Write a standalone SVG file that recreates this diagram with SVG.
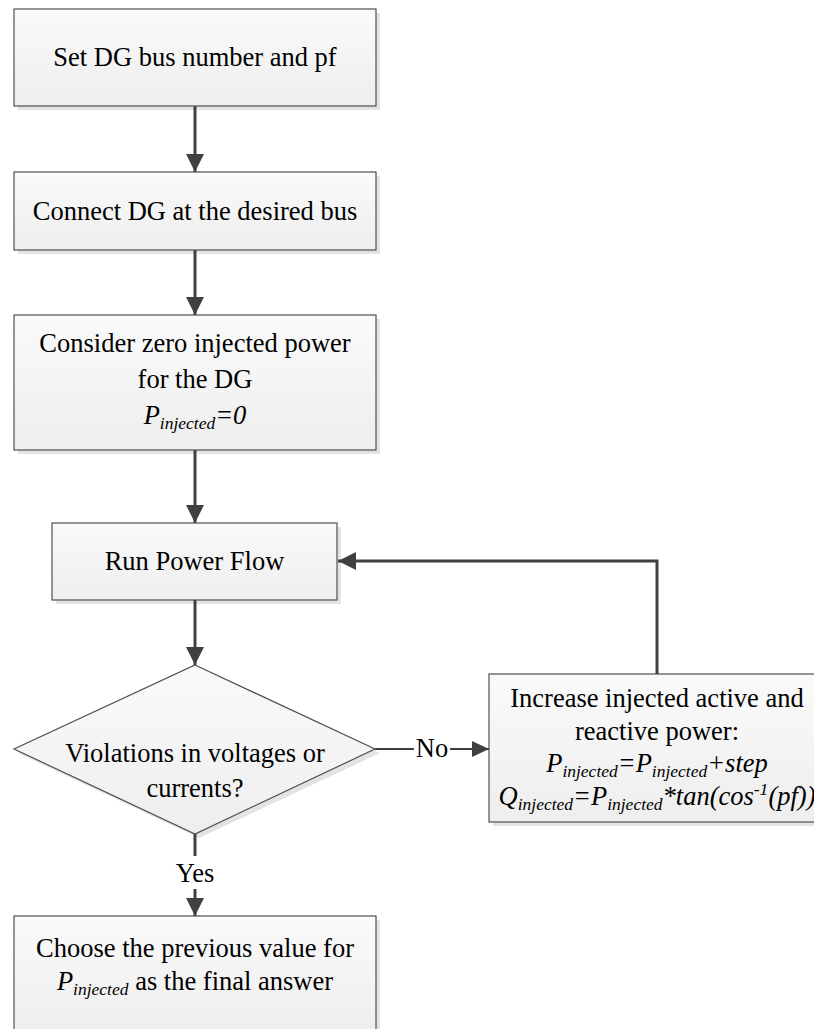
<svg xmlns="http://www.w3.org/2000/svg" width="814" height="1029" viewBox="0 0 814 1029">
<style>
.box{fill:url(#g);stroke:#505050;stroke-width:1.2}
.sh{fill:#e3e3e3}
.t{font-family:"Liberation Serif","Times New Roman",serif;font-size:26.5px;fill:#000;text-anchor:middle}
.i{font-style:italic}
.s{font-size:17.5px}
.c{fill:none;stroke:#404040;stroke-width:3}
.cn{fill:none;stroke:#404040;stroke-width:2}
</style>
<defs>
<linearGradient id="g" x1="0" y1="0" x2="0" y2="1">
<stop offset="0" stop-color="#fafafa"/>
<stop offset="1" stop-color="#eeeeee"/>
</linearGradient>
<marker id="a" markerUnits="userSpaceOnUse" markerWidth="20" markerHeight="20" viewBox="0 0 20 20" refX="18" refY="9" orient="auto">
<path d="M0,0 L18,9 L0,18 Z" fill="#404040"/>
</marker>
<marker id="an" markerUnits="userSpaceOnUse" markerWidth="20" markerHeight="20" viewBox="0 0 20 20" refX="17" refY="8" orient="auto">
<path d="M0,0 L17,8 L0,16 Z" fill="#404040"/>
</marker>
</defs>
<rect width="814" height="1029" fill="#fff"/>

<g id="n1">
<rect class="sh" x="18" y="13" width="362" height="97"/>
<rect class="box" x="14" y="9" width="362" height="97"/>
<text class="t" x="195" y="66">Set DG bus number and pf</text>
</g>
<g id="n2">
<rect class="sh" x="18" y="176" width="362" height="78"/>
<rect class="box" x="14" y="172" width="362" height="78"/>
<text class="t" x="195" y="220">Connect DG at the desired bus</text>
</g>
<g id="n3">
<rect class="sh" x="18" y="319" width="362" height="135"/>
<rect class="box" x="14" y="315" width="362" height="135"/>
<text class="t" x="195" y="352">Consider zero injected power</text>
<text class="t" x="195" y="388">for the DG</text>
<text class="t i" x="195" y="424">P<tspan class="s" dy="5">injected</tspan><tspan dy="-5">=0</tspan></text>
</g>
<g id="n4">
<rect class="sh" x="56" y="527" width="285" height="77"/>
<rect class="box" x="52" y="523" width="285" height="77"/>
<text class="t" x="194.5" y="570">Run Power Flow</text>
</g>
<g id="n5">
<polygon class="sh" points="199,669 380,753 199,838 18,753"/>
<polygon class="box" points="195,665 375,749 195,834 14,749"/>
<text class="t" x="195" y="762">Violations in voltages or</text>
<text class="t" x="195" y="797">currents?</text>
</g>
<g id="n6">
<rect class="sh" x="493" y="678" width="336" height="148"/>
<rect class="box" x="489" y="674" width="336" height="148"/>
<text class="t" x="657" y="707">Increase injected active and</text>
<text class="t" x="657" y="740">reactive power:</text>
<text class="t i" x="657" y="772">P<tspan class="s" dy="5">injected</tspan><tspan dy="-5">=P</tspan><tspan class="s" dy="5">injected</tspan><tspan dy="-5">+step</tspan></text>
<text class="t i" x="657" y="805">Q<tspan class="s" dy="5">injected</tspan><tspan dy="-5">=P</tspan><tspan class="s" dy="5">injected</tspan><tspan dy="-5">*tan(cos</tspan><tspan class="s" dy="-10">-1</tspan><tspan dy="10">(pf))</tspan></text>
</g>
<g id="n7">
<rect class="sh" x="18" y="920" width="362" height="120"/>
<rect class="box" x="14" y="916" width="362" height="120"/>
<text class="t" x="195" y="957">Choose the previous value for</text>
<text class="t" x="195" y="990"><tspan class="i">P<tspan class="s" dy="5">injected</tspan></tspan><tspan dy="-5"> as the final answer</tspan></text>
</g>

<g id="connectors">
<path class="c" d="M195,106 V172" marker-end="url(#a)"/>
<path class="c" d="M195,250 V315" marker-end="url(#a)"/>
<path class="c" d="M195,450 V523" marker-end="url(#a)"/>
<path class="c" d="M195,600 V665" marker-end="url(#a)"/>
<path class="cn" d="M375,749 H414"/>
<path class="cn" d="M450,749 H489" marker-end="url(#an)"/>
<text class="t" x="432" y="757">No</text>
<path class="c" d="M657,674 V561 H338" marker-end="url(#a)"/>
<path class="c" d="M195,834 V856"/>
<path class="c" d="M195,889 V916" marker-end="url(#a)"/>
<text class="t" x="195" y="882">Yes</text>
</g>
</svg>
